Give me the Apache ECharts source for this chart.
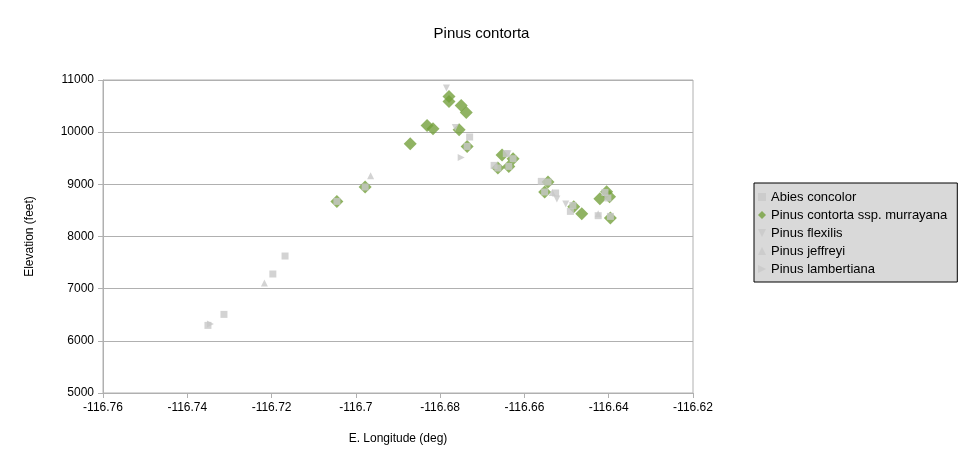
<!DOCTYPE html>
<html>
<head>
<meta charset="utf-8">
<script src="https://cdn.jsdelivr.net/npm/echarts@6/dist/echarts.min.js"></script>
<style>html,body{margin:0;padding:0;background:#fff}#c{width:963px;height:467px}</style>
</head>
<body>
<div id="c"></div>
<script>
var seriesNames = ['Abies concolor', 'Pinus contorta ssp. murrayana', 'Pinus flexilis', 'Pinus jeffreyi', 'Pinus lambertiana'];

var abiesLon = [-116.7168, -116.7197, -116.7313, -116.7351, -116.7045, -116.6978, -116.6730, -116.6736, -116.6663, -116.6672, -116.6637, -116.6627, -116.6643, -116.6544, -116.6560, -116.6552, -116.6526, -116.6485, -116.6491, -116.6409, -116.6402, -116.6425, -116.6396];
var abiesElev = [7626, 7281, 6507, 6296, 8673, 8949, 9907, 9727, 9313, 9363, 9344, 9491, 9588, 9045, 9057, 8853, 8834, 8596, 8481, 8845, 8738, 8399, 8386];

var contortaLon = [-116.7045, -116.6978, -116.6871, -116.6831, -116.6817, -116.6779, -116.6779, -116.6750, -116.6738, -116.6755, -116.6736, -116.6653, -116.6663, -116.6637, -116.6627, -116.6544, -116.6552, -116.6483, -116.6464, -116.6421, -116.6405, -116.6398, -116.6396];
var contortaElev = [8673, 8949, 9779, 10130, 10067, 10686, 10590, 10513, 10379, 10047, 9727, 9562, 9313, 9344, 9491, 9045, 8853, 8571, 8437, 8725, 8859, 8763, 8355];

var flexilisLon = [-116.6785, -116.6764, -116.6639, -116.6523, -116.6502];
var flexilisElev = [10847, 10091, 9587, 8719, 8623];

var jeffreyiLon = [-116.6965, -116.7217, -116.6425, -116.6534];
var jeffreyiElev = [9166, 7109, 8437, 8845];

var lambertianaLon = [-116.6750, -116.7345];
var lambertianaElev = [9516, 6322];

var xTicks = [-116.76, -116.74, -116.72, -116.70, -116.68, -116.66, -116.64, -116.62];
var yTicks = [5000, 6000, 7000, 8000, 9000, 10000, 11000];

function pairs(a, b) { return a.map(function (v, i) { return [v, b[i]]; }); }

var GRAY = '#c8c8c8';
var GREEN = '#74a03c';
var FONT = 'Liberation Sans';
var downTri = 'path://M0,0 L10,0 L5,10 Z';
var rightTri = 'path://M0,0 L10,5 L0,10 Z';

var chart = echarts.init(document.getElementById('c'));
chart.setOption({
  animation: false,
  textStyle: { fontFamily: FONT },
  title: {
    text: 'Pinus contorta', left: 'center', top: 21,
    textStyle: { fontFamily: FONT, fontSize: 15, fontWeight: 'normal', color: '#000' }
  },
  grid: {
    left: 103, right: 270, top: 80, bottom: 74,
    show: true, borderColor: '#b0b0b0', borderWidth: 1, backgroundColor: 'transparent'
  },
  legend: {
    orient: 'vertical', left: 754, top: 183,
    width: 204,
    backgroundColor: '#d9d9d9', borderColor: '#000', borderWidth: 1,
    padding: [7, 10, 6, 4],
    itemWidth: 8, itemHeight: 8, itemGap: 4,
    textStyle: { fontFamily: FONT, fontSize: 13, lineHeight: 14, color: '#000' },
    data: [
      { name: seriesNames[0], icon: 'rect' },
      { name: seriesNames[1], icon: 'diamond' },
      { name: seriesNames[2], icon: downTri },
      { name: seriesNames[3], icon: 'triangle' },
      { name: seriesNames[4], icon: rightTri }
    ]
  },
  xAxis: {
    type: 'value', min: xTicks[0], max: xTicks[xTicks.length - 1], interval: 0.02,
    name: 'E. Longitude (deg)', nameLocation: 'middle', nameGap: 40,
    nameTextStyle: { fontFamily: FONT, fontSize: 12, color: '#000' },
    axisLine: { show: true, onZero: false, lineStyle: { color: '#b0b0b0' } },
    axisTick: { show: true, length: 5, lineStyle: { color: '#b0b0b0' } },
    axisLabel: { fontFamily: FONT, fontSize: 12, color: '#000', margin: 9,
      formatter: function (v) { return String(parseFloat(v.toFixed(2))); } },
    splitLine: { show: false }
  },
  yAxis: {
    type: 'value', min: yTicks[0], max: yTicks[yTicks.length - 1], interval: 1000,
    name: 'Elevation (feet)', nameLocation: 'middle', nameGap: 67,
    nameTextStyle: { fontFamily: FONT, fontSize: 12, color: '#000' },
    axisLine: { show: true, lineStyle: { color: '#b0b0b0' } },
    axisTick: { show: true, length: 5, lineStyle: { color: '#b0b0b0' } },
    axisLabel: { fontFamily: FONT, fontSize: 12, color: '#000', margin: 9,
      formatter: function (v) { return String(v); } },
    splitLine: { show: true, lineStyle: { color: '#b0b0b0', width: 1 } }
  },
  series: [
    { name: seriesNames[0], type: 'scatter', z: 4, symbol: 'rect', symbolSize: 7,
      itemStyle: { color: GRAY }, data: pairs(abiesLon, abiesElev) },
    { name: seriesNames[1], type: 'scatter', z: 2, symbol: 'diamond', symbolSize: 13,
      itemStyle: { color: GREEN }, data: pairs(contortaLon, contortaElev) },
    { name: seriesNames[2], type: 'scatter', z: 3, symbol: downTri, symbolSize: 7,
      itemStyle: { color: GRAY }, data: pairs(flexilisLon, flexilisElev) },
    { name: seriesNames[3], type: 'scatter', z: 3, symbol: 'triangle', symbolSize: 7,
      itemStyle: { color: GRAY }, data: pairs(jeffreyiLon, jeffreyiElev) },
    { name: seriesNames[4], type: 'scatter', z: 3, symbol: rightTri, symbolSize: 7,
      itemStyle: { color: GRAY }, data: pairs(lambertianaLon, lambertianaElev) }
  ]
});
</script>
</body>
</html>
